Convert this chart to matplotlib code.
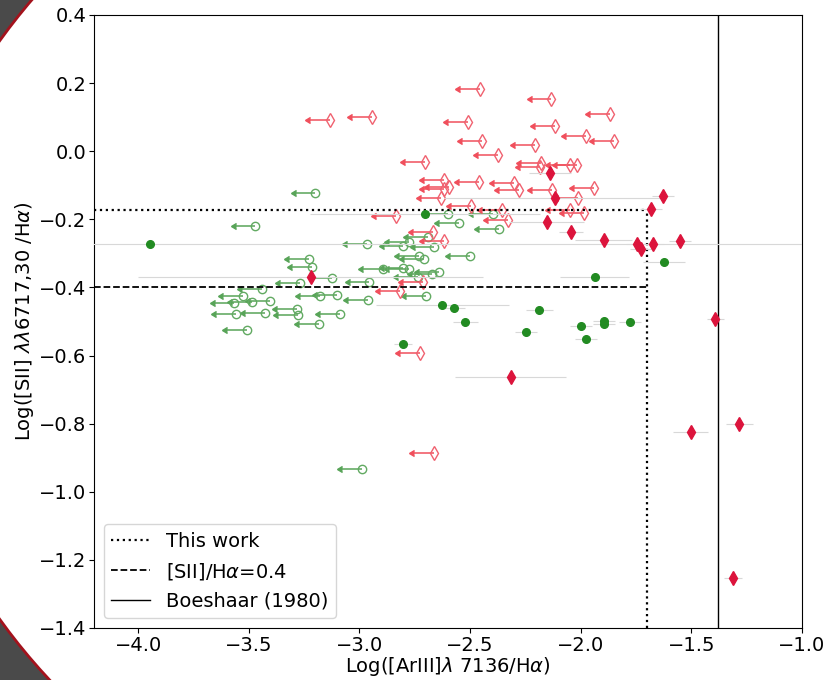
import matplotlib
matplotlib.use("Agg")
import numpy as np
from matplotlib import pyplot as plt
from matplotlib.patches import Ellipse
from matplotlib.transforms import IdentityTransform
from matplotlib.markers import CARETLEFTBASE


# upper limits on [ArIII] (open diamonds, red)
red_lim_x = [-2.457, -2.132, -3.133, -2.944, -1.866, -2.508, -2.118, -1.976, -1.849, -2.445,
             -2.205, -2.373, -2.703, -2.181, -2.183, -2.048, -2.015, -2.618, -2.460, -2.300,
             -2.597, -2.617, -2.279, -2.128, -1.940, -2.630, -2.011, -2.494, -2.355, -2.047,
             -1.987, -2.834, -2.328, -2.667, -2.618, -2.711, -2.815, -2.726, -2.662]
red_lim_y = [0.182, 0.153, 0.092, 0.101, 0.108, 0.085, 0.075, 0.045, 0.031, 0.030,
             0.019, -0.010, -0.033, -0.034, -0.045, -0.042, -0.040, -0.086, -0.091, -0.094,
             -0.105, -0.110, -0.114, -0.114, -0.108, -0.136, -0.136, -0.160, -0.173, -0.172,
             -0.182, -0.189, -0.203, -0.236, -0.264, -0.385, -0.411, -0.592, -0.887]

# detections (filled diamonds, red)
red_x = [-3.221, -2.139, -2.117, -2.153, -2.045, -1.896, -1.745, -1.727, -1.672, -1.628,
         -1.682, -1.551, -1.391, -1.503, -1.283, -1.313, -2.317]
red_y = [-0.369, -0.063, -0.138, -0.209, -0.236, -0.261, -0.273, -0.287, -0.273, -0.131,
         -0.169, -0.264, -0.493, -0.825, -0.802, -1.254, -0.663]
red_xerr = [0.78, 0.095, 0.5, 0.17, 0.055, 0.13, 0.05, 0.05, 0.05, 0.05,
            0.05, 0.05, 0.04, 0.08, 0.06, 0.04, 0.25]

# detections (filled circles, green)
green_x = [-3.947, -2.704, -2.625, -2.573, -2.521, -2.804, -2.187, -2.248, -2.000, -1.976,
           -1.893, -1.896, -1.776, -1.937, -1.623]
green_y = [-0.273, -0.185, -0.451, -0.461, -0.503, -0.567, -0.467, -0.530, -0.514, -0.552,
           -0.498, -0.508, -0.503, -0.369, -0.324]
green_xerr = [3.0, 0.52, 0.3, 0.05, 0.055, 0.04, 0.06, 0.05, 0.05, 0.05,
              0.05, 0.05, 0.05, 0.155, 0.095]

# upper limits on [ArIII] (open circles, green)
green_lim_x = [-3.199, -3.470, -2.599, -2.398, -2.551, -2.368, -2.691, -2.775, -2.968, -2.801,
               -2.661, -2.502, -3.230, -3.214, -2.730, -2.709, -2.801, -2.777, -2.894, -2.641,
               -2.674, -2.737, -3.122, -3.268, -2.955, -3.439, -3.525, -3.565, -3.406, -3.484,
               -3.101, -3.177, -2.962, -2.701, -3.282, -3.277, -3.559, -3.427, -3.088, -3.184,
               -3.510, -2.987]
green_lim_y = [-0.122, -0.220, -0.185, -0.184, -0.212, -0.228, -0.251, -0.268, -0.272, -0.278,
               -0.280, -0.307, -0.318, -0.340, -0.307, -0.317, -0.344, -0.347, -0.347, -0.354,
               -0.361, -0.369, -0.373, -0.388, -0.385, -0.405, -0.424, -0.445, -0.441, -0.444,
               -0.421, -0.426, -0.436, -0.426, -0.463, -0.481, -0.479, -0.476, -0.477, -0.506,
               -0.526, -0.932]

LIM_ARROW = 0.09
SII_THIS = -0.172
ARIII_THIS = -1.7
SII_04 = -0.398
ARIII_BOESHAAR = -1.38

fs = 14


def plot_limits(ax, x, y, marker, ms, mcolor, acolor):
    # horizontal bar to the left of the point, with an arrow head at its end
    x = np.asarray(x)
    ax.hlines(y, x - LIM_ARROW, x, color=acolor, lw=1.1, zorder=2)
    ax.plot(x - LIM_ARROW, y, ls='none', marker=CARETLEFTBASE, ms=5,
            mfc=acolor, mec=acolor, zorder=2)
    ax.plot(x, y, ls='none', marker=marker, ms=ms, mfc='none', mec=mcolor,
            mew=1, zorder=2)


fig = plt.figure(figsize=(8.28, 6.8), dpi=100)
fig.patch.set_facecolor('#4a4a4a')
frame = Ellipse((684, 350), 1562, 1200, transform=IdentityTransform(),
                facecolor='white', edgecolor='#a3121c', lw=2, zorder=-1)
fig.add_artist(frame)

ax = fig.add_axes([0.1135, 0.0765, 0.855, 0.9015])

# detections, error bars in light gray
ax.errorbar(green_x, green_y, xerr=green_xerr, fmt='o', color='forestgreen', ms=5.5,
            ecolor='#d8d8d8', elinewidth=0.8, zorder=3)
ax.errorbar(red_x, red_y, xerr=red_xerr, fmt='d', color='crimson', ms=7.5,
            ecolor='#d8d8d8', elinewidth=0.8, zorder=3)

# upper limits
plot_limits(ax, green_lim_x, green_lim_y, 'o', 6, '#62aa62', '#58a458')
plot_limits(ax, red_lim_x, red_lim_y, 'd', 7.5, '#f06270', '#f04f5c')

# criteria
ax.plot([-4.2, ARIII_THIS], [SII_THIS, SII_THIS], 'k:', lw=1.6, label='This work')
ax.plot([ARIII_THIS, ARIII_THIS], [-1.4, SII_THIS], 'k:', lw=1.6)
ax.plot([-4.2, ARIII_THIS], [SII_04, SII_04], 'k--', lw=1.3, label=r'[SII]/H$\alpha$=0.4')
ax.axvline(ARIII_BOESHAAR, color='k', lw=1, label='Boeshaar (1980)')

ax.set_xlim(-4.2, -1.0)
ax.set_ylim(-1.4, 0.4)
ax.set_xticks([-4.0, -3.5, -3.0, -2.5, -2.0, -1.5, -1.0])
ax.set_yticks([-1.4, -1.2, -1.0, -0.8, -0.6, -0.4, -0.2, 0.0, 0.2, 0.4])
ax.tick_params(labelsize=fs, pad=2)
ax.set_xlabel(r'Log([ArIII]$\lambda$ 7136/H$\alpha$)', fontsize=fs, labelpad=0)
ax.set_ylabel(r'Log([SII] $\lambda\lambda$6717,30 /H$\alpha$)', fontsize=fs, labelpad=2)
ax.legend(loc='lower left', fontsize=fs)

plt.savefig('out.png', dpi=100, facecolor=fig.get_facecolor())
